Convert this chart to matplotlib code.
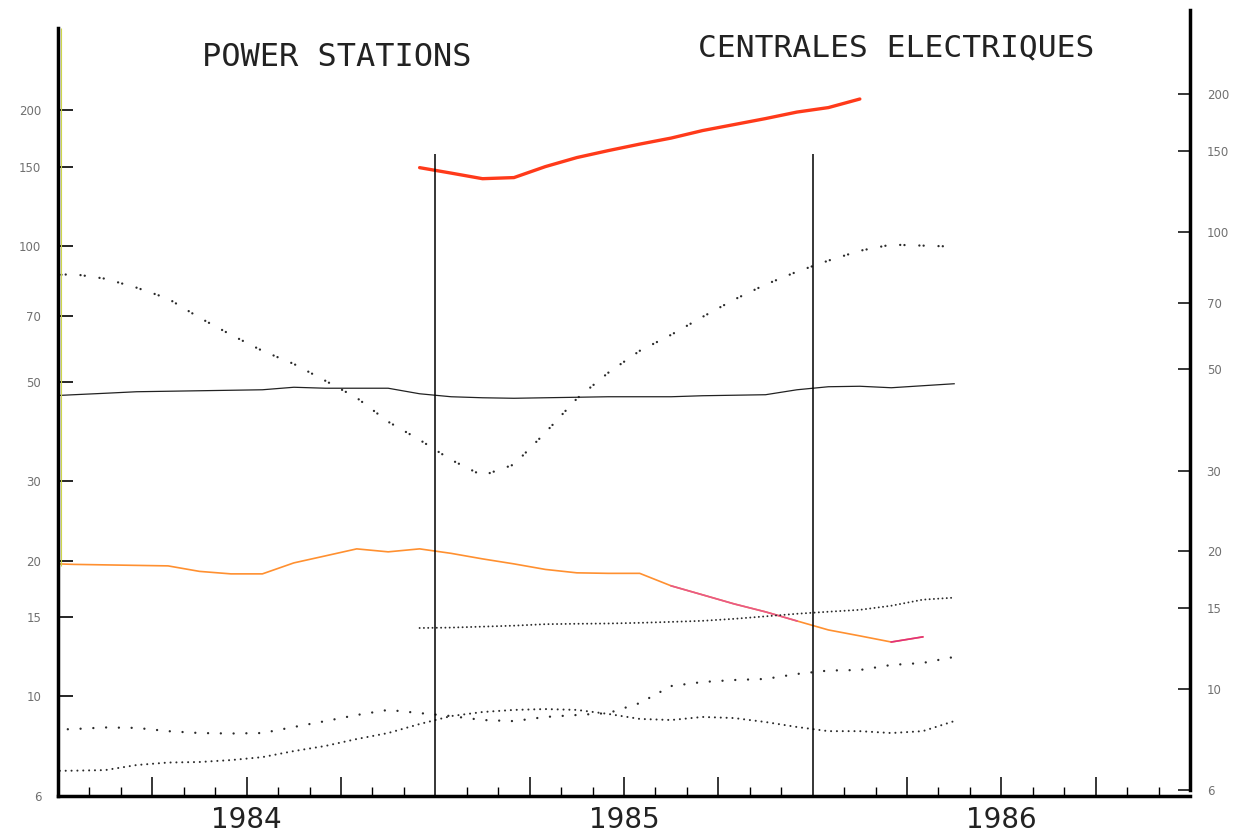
import numpy as np
import pandas as pd
import matplotlib
matplotlib.use("Agg")
import matplotlib.pyplot as plt
from matplotlib.ticker import NullLocator, FixedLocator

# ---------------- data (monthly) ----------------
full_months = pd.period_range("1983-12", "1986-05", freq="M")
orange_months = pd.period_range("1983-12", "1986-04", freq="M")
red_months = pd.period_range("1984-12", "1986-02", freq="M")
late_months = pd.period_range("1984-12", "1986-05", freq="M")

# big dotted series (dip in early 1985)
dotted_big = [85.9, 86.6, 84.6, 80.8, 76.4, 69.3, 63.5, 58.5, 54.7, 50.2,
              46.0, 40.7, 37.1, 33.5, 30.9, 32.7, 38.5, 45.8, 52.3, 58.5,
              63.5, 69.6, 76.0, 82.1, 87.7, 92.8, 97.6, 100.7, 100.2, 99.7]
# thin black line around 47
black_line = [46.37, 46.73, 47.08, 47.45, 47.57, 47.69, 47.81, 47.93, 48.55, 48.31,
              48.31, 48.31, 46.96, 46.25, 46.01, 45.89, 46.01, 46.13, 46.25, 46.25,
              46.25, 46.49, 46.61, 46.73, 47.93, 48.68, 48.80, 48.43, 48.93, 49.43]
# orange line around 20
orange_line = [19.72, 19.62, 19.57, 19.52, 19.47, 18.93, 18.69, 18.69, 19.77, 20.49,
               21.24, 20.92, 21.24, 20.76, 20.18, 19.67, 19.12, 18.79, 18.74, 18.74,
               17.58, 16.79, 16.03, 15.39, 14.69, 14.03, 13.61, 13.19, 13.54]
# sparse dotted series rising to ~12
dotted_sparse = [8.41, 8.45, 8.52, 8.50, 8.36, 8.28, 8.26, 8.28, 8.54, 8.80,
                 9.08, 9.32, 9.17, 9.03, 8.85, 8.80, 8.99, 9.08, 9.17, 9.65,
                 10.53, 10.75, 10.86, 10.92, 11.20, 11.40, 11.43, 11.73, 11.85, 12.22]
# dense dotted series at the bottom
dotted_low = [6.82, 6.83, 6.85, 7.03, 7.12, 7.14, 7.21, 7.32, 7.55, 7.75,
              8.03, 8.28, 8.67, 9.03, 9.22, 9.32, 9.36, 9.32, 9.13, 8.90,
              8.85, 8.99, 8.94, 8.76, 8.54, 8.36, 8.36, 8.28, 8.36, 8.80]
# dense dotted series around 15 (from Dec 1984)
dotted_15 = [14.17, 14.20, 14.27, 14.34, 14.45, 14.48, 14.50, 14.55, 14.62, 14.70,
             14.85, 15.04, 15.24, 15.40, 15.55, 15.88, 16.38, 16.55]
# thick red line (from Dec 1984)
red_line = [149.3, 145.2, 141.1, 141.9, 150.1, 157.2, 162.9, 168.4, 173.7, 180.5,
            186.1, 191.9, 198.4, 203.0, 212.1]

y_ticks = [6, 10, 15, 20, 30, 50, 70, 100, 150, 200]
year_labels = ["1984", "1985", "1986"]


def month_pos(periods):
    # months since Jan 1984, plotted at mid-month
    return np.array([(p.year - 1984) * 12 + (p.month - 1) + 0.5 for p in periods])


x_full = month_pos(full_months)
x_orange = month_pos(orange_months)
x_red = month_pos(red_months)
x_late = month_pos(late_months)

# ---------------- figure ----------------
W, H = 1239, 832
fig = plt.figure(figsize=(W / 100, H / 100), dpi=100)
fig.patch.set_facecolor("white")

ax = fig.add_axes([58 / W, 36 / H, 1132 / W, 768 / H])
ax.set_yscale("log")
ax.set_ylim(6, 305)
ax.set_xlim(0, 36)

dot_col = "#2a2a2a"
ax.plot(x_full, dotted_big, color=dot_col, lw=1.7, dash_capstyle="round",
        linestyle=(0, (0.01, 1.8, 0.01, 6.3)))
ax.plot(x_full, black_line, color="#222222", lw=0.9)
ax.plot(x_orange, orange_line, color="#ff9030", lw=1.2)
# pink-tinted parts of the orange line
ax.plot(x_orange[20:25], orange_line[20:25], color="#e8588a", lw=1.2)
ax.plot(x_orange[27:], orange_line[27:], color="#e0307f", lw=1.2)
ax.plot(x_full, dotted_sparse, color=dot_col, lw=1.7, dash_capstyle="round",
        linestyle=(0, (0.01, 5.4)))
ax.plot(x_full, dotted_low, color=dot_col, lw=1.5, dash_capstyle="round",
        linestyle=(0, (0.01, 2.8)))
ax.plot(x_late, dotted_15, color=dot_col, lw=1.4, dash_capstyle="round",
        linestyle=(0, (0.01, 2.2)))
ax.plot(x_red, red_line, color="#ff3a1a", lw=2.4, solid_capstyle="round")

# year separators
ax.vlines([12, 24], 6, 160, color="black", lw=1.1)

# spines
for s in ["top", "right"]:
    ax.spines[s].set_visible(False)
ax.spines["left"].set_linewidth(2.5)
ax.spines["bottom"].set_linewidth(2.5)
ax.vlines(0.09, 19.5, 305, color="#cdd64a", lw=0.8, clip_on=False)

# left y ticks
ax.yaxis.set_major_locator(FixedLocator(y_ticks))
ax.yaxis.set_minor_locator(NullLocator())
ax.set_yticklabels([str(v) for v in y_ticks])
ax.tick_params(axis="y", direction="in", length=11, width=1.2,
               labelsize=8.5, labelcolor="#707070", pad=12)
for t, v in zip(ax.yaxis.get_major_ticks(), y_ticks):
    t.tick1line.set_color("#b9c832" if v >= 20 else "#808080")

# x ticks: quarters long, months short
quarters = [m for m in range(3, 36, 3) if m % 12 != 0]
months = [m for m in range(1, 36) if m % 3 != 0]
ax.xaxis.set_major_locator(FixedLocator(quarters))
ax.xaxis.set_minor_locator(FixedLocator(months))
qlabels = {6: year_labels[0], 18: year_labels[1], 30: year_labels[2]}
ax.set_xticklabels([qlabels.get(q, "") for q in quarters])
ax.tick_params(axis="x", which="major", direction="in", length=14, width=1.1,
               labelsize=20, labelcolor="#222222", pad=7)
ax.tick_params(axis="x", which="minor", direction="in", length=6.5, width=1.0)

# right axis (slightly offset scale, as on the original)
ax2 = fig.add_axes([58 / W, 42 / H, 1132 / W, 780 / H])
ax2.set_yscale("log")
ax2.set_ylim(6, 306)
ax2.set_xlim(0, 36)
ax2.patch.set_alpha(0)
for s in ["top", "left", "bottom"]:
    ax2.spines[s].set_visible(False)
ax2.spines["right"].set_linewidth(2.5)
ax2.set_xticks([])
ax2.yaxis.tick_right()
ax2.yaxis.set_major_locator(FixedLocator(y_ticks))
ax2.yaxis.set_minor_locator(NullLocator())
ax2.set_yticklabels([str(v) for v in y_ticks])
ax2.tick_params(axis="y", direction="in", length=9, width=1.1,
                labelsize=8.5, labelcolor="#707070", pad=12)

# titles
fig.text(202 / W, 1 - 66 / H, "POWER STATIONS", family="DejaVu Sans Mono",
         fontsize=23, color="#222222", va="baseline", ha="left")
fig.text(698 / W, 1 - 56 / H, "CENTRALES ELECTRIQUES", family="DejaVu Sans Mono",
         fontsize=22.5, color="#222222", va="baseline", ha="left")

fig.savefig("out.png", dpi=100, facecolor="white")
